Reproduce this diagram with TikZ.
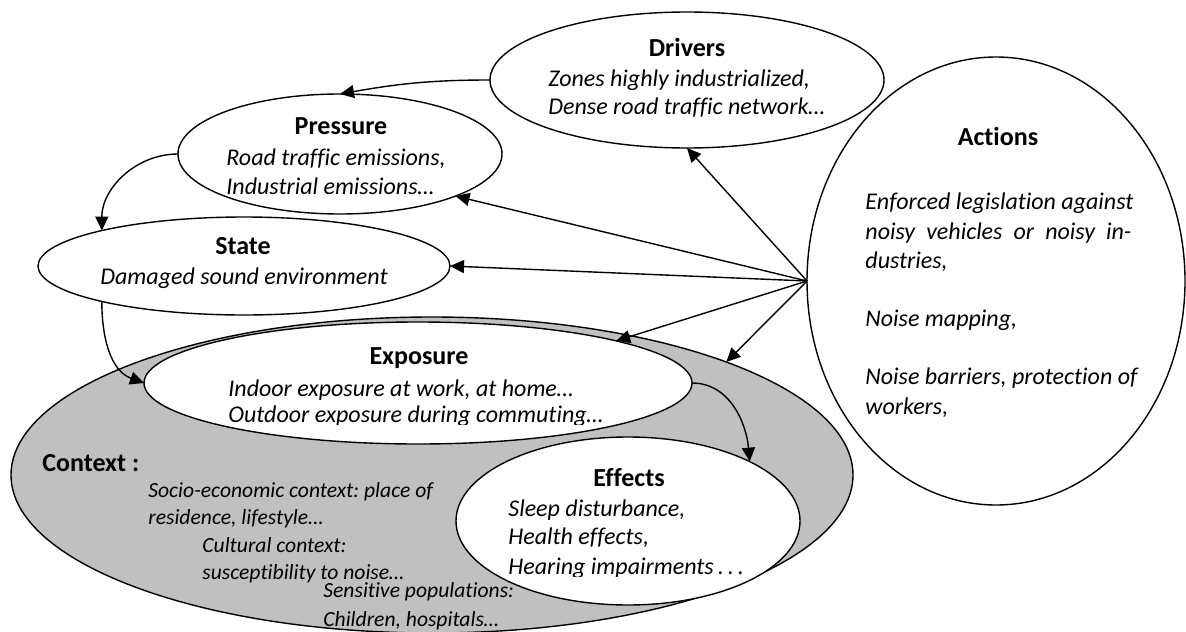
\documentclass[tikz,border=0pt]{standalone}
\usepackage{fontspec}
\setmainfont{Carlito}[Ligatures=NoCommon]
\usetikzlibrary{arrows.meta,shapes.geometric}
\definecolor{ctxgray}{RGB}{192,192,192}
\frenchspacing
\tikzset{
  ell/.style={shape=ellipse, draw, line width=0.7pt, fill=white, inner sep=0pt, outer sep=0pt},
  ttl/.style={font=\fontsize{13}{15}\selectfont\bfseries, inner sep=0pt, anchor=mid},
  txt/.style={font=\fontsize{12}{14.5}\selectfont\itshape, inner sep=0pt, anchor=mid west},
  ctxt/.style={font=\fontsize{10.8}{13}\selectfont\itshape, inner sep=0pt, anchor=mid west},
  arr/.style={-{Triangle[length=7pt,width=6.5pt]}, line width=0.7pt},
}
\begin{document}
\begin{tikzpicture}[x=0.5pt,y=-0.5pt]
\useasboundingbox (0,0) rectangle (1186,631);
% ellipses
\node[ell, fill=ctxgray, minimum width=421pt, minimum height=158pt] (ctx) at (432,475) {};
\node[ell, minimum width=274pt, minimum height=61pt] (exp) at (418,383) {};
\node[ell, minimum width=172pt, minimum height=84pt] (eff) at (628,521) {};
\node[ell, minimum width=206pt, minimum height=49pt] (st) at (244,266) {};
\node[ell, minimum width=162pt, minimum height=60pt] (prs) at (340,154) {};
\node[ell, minimum width=197pt, minimum height=68pt] (drv) at (687,80) {};
\node[ell, minimum width=189pt, minimum height=224pt] (act) at (996,281) {};
% Drivers
\node[ttl] (drvT) at (687,52) {Drivers};
\node[txt] (drv1) at (548,82) {Zones highly industrialized,};
\node[txt] (drv2) at (548,110) {Dense road traffic network…};
% Pressure
\node[ttl] (prsT) at (341,130) {Pressure};
\node[txt] (prs1) at (226,161) {Road traffic emissions,};
\begin{scope}
\clip (0,0) rectangle (1186,194.5);
\node[txt] (prs2) at (226,190) {Industrial emissions…};
\end{scope}
% State
\node[ttl] (stT) at (243,250) {State};
\node[txt] (st1) at (100,280) {Damaged sound environment};
% Exposure
\node[ttl] (expT) at (419,360) {Exposure};
\node[txt] (exp1) at (228,392) {Indoor exposure at work, at home…};
\begin{scope}
\clip (0,0) rectangle (1186,424);
\node[txt] (exp2) at (228,418) {Outdoor exposure during commuting…};
\end{scope}
% Effects
\node[ttl] (effT) at (629,482) {Effects};
\node[txt] (eff1) at (508,512) {Sleep disturbance,};
\node[txt] (eff2) at (508,540) {Health effects,};
\begin{scope}
\clip (0,0) rectangle (1186,576);
\node[txt] (eff3) at (508,570) {Hearing impairments\,.\,.\,.};
\end{scope}
% Actions
\node[ttl] (actT) at (998,141) {Actions};
\node[txt] (act1) at (865,205) {Enforced legislation against};
\node[txt] (act2) at (865,235) {\makebox[133pt][s]{noisy vehicles or noisy in-}};
\node[txt] (act3) at (865,264) {dustries,};
\node[txt] (act4) at (865,322) {Noise mapping,};
\node[txt] (act5) at (865,380) {Noise barriers, protection of};
\node[txt] (act6) at (865,410) {workers,};
% Context
\node[ttl, anchor=mid west] (ctxT) at (42,467) {Context :};
\node[ctxt] (ctx1) at (148,493) {Socio-economic context: place of};
\node[ctxt] (ctx2) at (148,520) {residence, lifestyle…};
\node[ctxt] (ctx3) at (202,548) {Cultural context:};
\node[ctxt] (ctx4) at (202,575) {susceptibility to noise…};
\node[ctxt] (ctx5) at (323,593) {Sensitive populations:};
\node[ctxt] (ctx6) at (323,622) {Children, hospitals…};
% connectors
\draw[arr] (drv.west) to[out=180,in=10] (prs.north);
\draw[arr] (prs.west) to[out=180,in=90] (st.166);
\draw[arr] (st.194) to[out=-90,in=160] (exp.west);
\draw[arr] (exp.east) to[out=0,in=95] (eff.26);
\draw[arr] (act.west) -- (drv.south);
\draw[arr] (act.west) -- (prs.-20);
\draw[arr] (act.west) -- (st.east);
\draw[arr] (act.west) -- (exp.12);
\draw[arr] (act.west) -- (ctx.21);
\end{tikzpicture}
\end{document}
